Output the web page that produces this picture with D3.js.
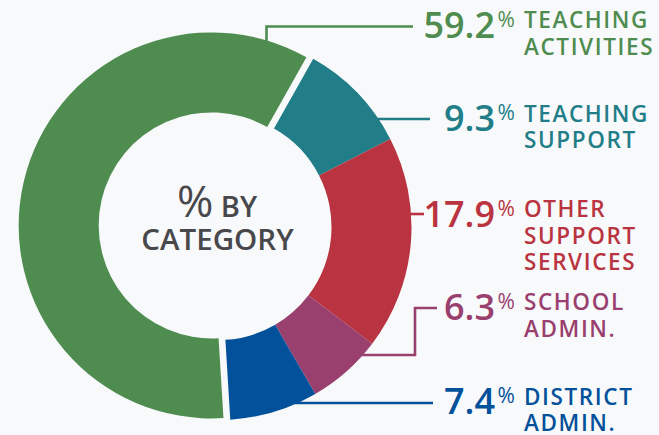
<!DOCTYPE html>
<html>
<head>
<meta charset="utf-8">
<script src="https://cdn.jsdelivr.net/npm/d3@7"></script>
<style>
  html, body { margin: 0; padding: 0; background: #f8f9fb; }
  svg { display: block; }
  text { font-family: "Open Sans", "Noto Sans", sans-serif; }
</style>
</head>
<body>
<svg id="chart" width="659" height="435"></svg>
<script>
// ---- data ----
const categories = ["Teaching Activities", "Teaching Support", "Other Support Services", "School Admin.", "District Admin."];
const values = [59.2, 9.3, 17.9, 6.3, 7.4];
const valueLabels = ["59.2", "9.3", "17.9", "6.3", "7.4"];
const labelLines = [
  ["TEACHING", "ACTIVITIES"],
  ["TEACHING", "SUPPORT"],
  ["OTHER", "SUPPORT", "SERVICES"],
  ["SCHOOL", "ADMIN."],
  ["DISTRICT", "ADMIN."]
];
const colors = ["#4e8c50", "#217e88", "#b93440", "#99406e", "#03519a"];
const centerTitle = ["% BY", "CATEGORY"];

// ---- layout ----
const W = 659, H = 435;
const cx = 218.5, cy = 227;
const R = 193, r = 113;
const explode = 7;
const rot = -3.5 * Math.PI / 180;

const svg = d3.select("#chart");
svg.append("rect").attr("width", W).attr("height", H).attr("fill", "#f8f9fb");

const pie = d3.pie().sort(null).value(d => d)
  .startAngle(Math.PI + rot).endAngle(3 * Math.PI + rot);
const arcs = pie(values);
const arc = d3.arc().innerRadius(r).outerRadius(R);

const g = svg.append("g").attr("transform", `translate(${cx},${cy})`);
const offsets = arcs.map((a, i) => {
  if (i !== 0) return [0, 0];
  const m = (a.startAngle + a.endAngle) / 2;
  return [Math.sin(m) * explode, -Math.cos(m) * explode];
});
g.selectAll("path.slice").data(arcs).join("path")
  .attr("class", "slice")
  .attr("d", arc)
  .attr("fill", (d, i) => colors[i])
  .attr("transform", (d, i) => `translate(${offsets[i][0]},${offsets[i][1]})`);

// ---- leader lines ----
const edgeX = y => cx + Math.sqrt(Math.max(0, R * R - (y - cy) * (y - cy)));
const gcx = cx + offsets[0][0], gcy = cy + offsets[0][1];
const greenX = 266.5;
const greenY = gcy - Math.sqrt(R * R - (greenX - gcx) * (greenX - gcx)) + 1;
const leaders = [
  [[greenX, greenY], [greenX, 26.5], [413, 26.5]],
  [[edgeX(119) - 2, 119], [430, 119]],
  [[edgeX(214) - 2, 214], [424, 214]],
  [[edgeX(355) - 2, 355], [415, 355], [415, 308], [437, 308]],
  [[edgeX(403) - 3, 403], [433, 403]]
];
svg.selectAll("path.leader").data(leaders).join("path")
  .attr("class", "leader")
  .attr("d", d => d3.line()(d))
  .attr("fill", "none")
  .attr("stroke", (d, i) => colors[i])
  .attr("stroke-width", 2.6);

// ---- labels ----
const numBase = [37.5, 131, 226.5, 319.5, 414];
const lab = svg.selectAll("g.lab").data(values).join("g").attr("class", "lab");
lab.append("text")
  .attr("x", 495).attr("y", (d, i) => numBase[i])
  .attr("text-anchor", "end")
  .attr("font-size", 36).attr("font-weight", 600)
  .attr("fill", (d, i) => colors[i])
  .text((d, i) => valueLabels[i]);
lab.append("text")
  .attr("x", 497.5).attr("y", (d, i) => numBase[i] - 11)
  .attr("font-size", 21).attr("font-weight", 400)
  .attr("fill", (d, i) => colors[i])
  .text("%");
lab.each(function(d, i) {
  const t = d3.select(this).append("text")
    .attr("x", 524)
    .attr("font-size", 22.5).attr("font-weight", 600)
    .attr("letter-spacing", 1.6)
    .attr("fill", colors[i]);
  labelLines[i].forEach((ln, j) => {
    t.append("tspan").attr("x", 524).attr("y", numBase[i] - 9.5 + j * 26.5).text(ln);
  });
});

// ---- center title ----
const ct = svg.append("text")
  .attr("text-anchor", "middle")
  .attr("font-weight", 600)
  .attr("fill", "#48484c");
const l1 = ct.append("tspan").attr("x", 217).attr("y", 216.5);
l1.append("tspan").attr("font-size", 44).attr("font-weight", 400).text(centerTitle[0].slice(0, 1));
l1.append("tspan").attr("font-size", 29).text(centerTitle[0].slice(1));
ct.append("tspan").attr("x", 217.5).attr("y", 250).attr("font-size", 29.5).text(centerTitle[1]);
</script>
</body>
</html>
